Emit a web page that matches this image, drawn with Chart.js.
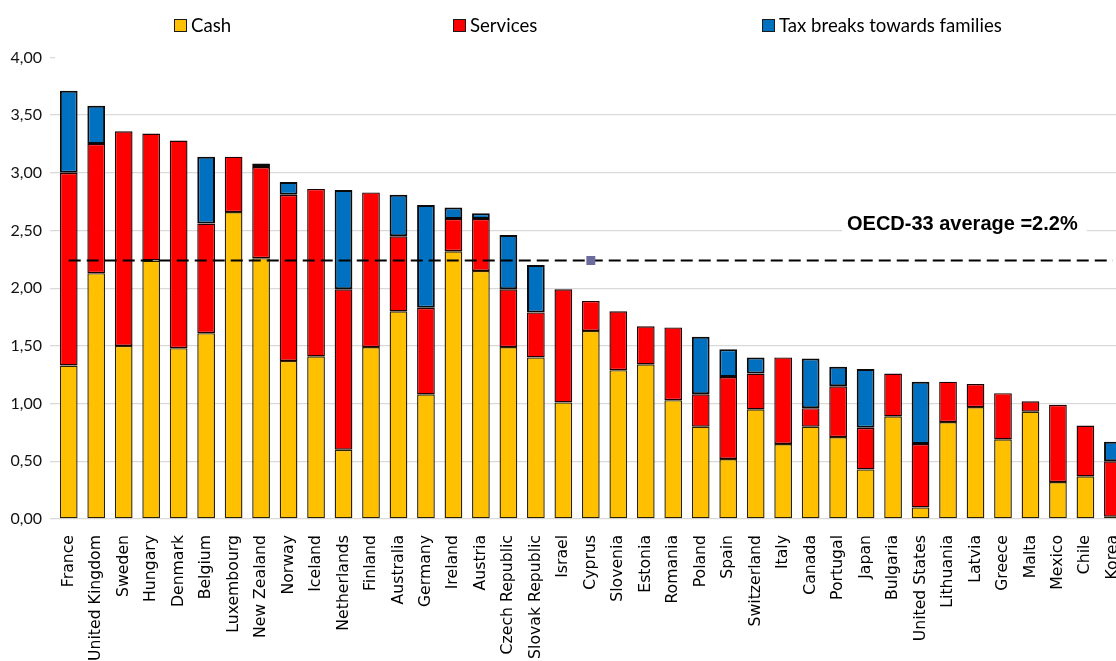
<!DOCTYPE html>
<html>
<head>
<meta charset="utf-8">
<title>Public spending on family benefits</title>
<script src="https://cdn.jsdelivr.net/npm/chart.js@4.4.1/dist/chart.umd.min.js"></script>
<style>
  html, body { margin: 0; padding: 0; background: #fff; overflow: hidden; }
  #wrap { width: 1148px; height: 661px; position: relative; }
</style>
</head>
<body>
<div id="wrap"><canvas id="chart"></canvas></div>
<script>
// Public spending on family benefits, % of GDP, by type of support
const countries = [
  'France', 'United Kingdom', 'Sweden', 'Hungary', 'Denmark', 'Belgium', 'Luxembourg',
  'New Zealand', 'Norway', 'Iceland', 'Netherlands', 'Finland', 'Australia', 'Germany',
  'Ireland', 'Austria', 'Czech Republic', 'Slovak Republic', 'Israel', 'Cyprus', 'Slovenia',
  'Estonia', 'Romania', 'Poland', 'Spain', 'Switzerland', 'Italy', 'Canada', 'Portugal',
  'Japan', 'Bulgaria', 'United States', 'Lithuania', 'Latvia', 'Greece', 'Malta', 'Mexico',
  'Chile', 'Korea'
];

const cash = [
  1.33, 2.13, 1.50, 2.24, 1.48, 1.61, 2.66,
  2.26, 1.37, 1.41, 0.60, 1.49, 1.80, 1.08,
  2.32, 2.15, 1.49, 1.40, 1.01, 1.63, 1.29,
  1.34, 1.03, 0.80, 0.52, 0.95, 0.65, 0.80, 0.71,
  0.43, 0.89, 0.10, 0.84, 0.97, 0.69, 0.93, 0.32,
  0.37, 0.02
];

const services = [
  1.67, 1.12, 1.86, 1.10, 1.80, 0.95, 0.48,
  0.79, 1.44, 1.45, 1.39, 1.34, 0.65, 0.75,
  0.28, 0.45, 0.50, 0.39, 0.98, 0.26, 0.51,
  0.33, 0.63, 0.28, 0.71, 0.31, 0.75, 0.16, 0.44,
  0.36, 0.37, 0.55, 0.35, 0.20, 0.40, 0.09, 0.67,
  0.44, 0.48
];

const taxBreaks = [
  0.71, 0.33, 0, 0, 0, 0.58, 0,
  0.03, 0.11, 0, 0.86, 0, 0.36, 0.89,
  0.10, 0.05, 0.47, 0.41, 0, 0, 0,
  0, 0, 0.50, 0.24, 0.14, 0, 0.43, 0.17,
  0.51, 0, 0.54, 0, 0, 0, 0, 0,
  0, 0.17
];

const seriesNames = ['Cash', 'Services', 'Tax breaks towards families'];
const oecdAverage = 2.24;
const averageLabel = 'OECD-33 average =2.2%';
const averageMarkerCountry = 'Cyprus';

const yMin = 0;
const yMax = 4;
const yStep = 0.5;

// ---- styling ----
const COLORS = { cash: '#FFC000', services: '#FF0000', tax: '#0070C0' };
const markerIndex = countries.indexOf(averageMarkerCountry);

const formatTick = v => Number(v).toFixed(2).replace('.', ',');

// Legend row across the top
const topLegend = {
  id: 'topLegend',
  afterDraw(chart) {
    const ctx = chart.ctx;
    const xs = [174, 453, 762];
    const bars = chart.data.datasets.filter(d => d.type === 'bar');
    ctx.save();
    bars.forEach((ds, i) => {
      const x = xs[i], y = 19;
      ctx.fillStyle = ds.backgroundColor;
      ctx.fillRect(x, y, 13, 13);
      ctx.strokeStyle = '#1a1a1a';
      ctx.lineWidth = 1;
      ctx.strokeRect(x + 0.5, y + 0.5, 12, 12);
      ctx.fillStyle = '#000';
      ctx.font = '18.6px Lato, "Open Sans", sans-serif';
      ctx.textBaseline = 'middle';
      ctx.textAlign = 'left';
      ctx.fillText(ds.label, x + 17, y + 7);
    });
    ctx.restore();
  }
};

// Caption for the average line, on a white box
const averageCaption = {
  id: 'averageCaption',
  afterDatasetsDraw(chart) {
    const ctx = chart.ctx;
    const yPix = chart.scales.y.getPixelForValue(oecdAverage);
    const cy = yPix - 36;
    ctx.save();
    ctx.font = 'bold 20px "Liberation Sans", Arial, sans-serif';
    const w = ctx.measureText(averageLabel).width;
    ctx.fillStyle = '#fff';
    ctx.fillRect(842, cy - 14, w + 14, 28);
    ctx.fillStyle = '#000';
    ctx.textBaseline = 'middle';
    ctx.textAlign = 'left';
    ctx.fillText(averageLabel, 847, cy);
    ctx.restore();
  }
};

const barBorder = w => ctx => (ctx.raw ? w : 0);

new Chart(document.getElementById('chart'), {
  data: {
    labels: countries,
    datasets: [
      {
        type: 'line',
        label: 'OECD-33 average',
        data: countries.map(() => oecdAverage),
        stack: 'average',
        order: 0,
        borderColor: '#000',
        borderWidth: 2,
        borderDash: [12, 6],
        fill: false,
        pointStyle: 'rect',
        pointRadius: ctx => (ctx.dataIndex === markerIndex ? 6.3 : 0),
        pointBackgroundColor: '#6B6B9E',
        pointBorderWidth: 0
      },
      {
        type: 'bar', label: seriesNames[0], data: cash, stack: 'benefits', order: 1,
        backgroundColor: COLORS.cash, borderColor: '#2b2200', borderWidth: barBorder(1.4), borderSkipped: false
      },
      {
        type: 'bar', label: seriesNames[1], data: services, stack: 'benefits', order: 1,
        backgroundColor: COLORS.services, borderColor: '#1f0000', borderWidth: barBorder(1.4), borderSkipped: false
      },
      {
        type: 'bar', label: seriesNames[2], data: taxBreaks, stack: 'benefits', order: 1,
        backgroundColor: COLORS.tax, borderColor: '#0a0a0a', borderWidth: barBorder(2), borderSkipped: false
      }
    ]
  },
  options: {
    responsive: true,
    maintainAspectRatio: false,
    animation: false,
    layout: { padding: { top: 57.4, right: 20.4, left: 0, bottom: 0 } },
    datasets: { bar: { categoryPercentage: 1, barPercentage: 0.645 } },
    plugins: { legend: { display: false }, tooltip: { enabled: false } },
    scales: {
      x: {
        stacked: true,
        grid: { display: false, drawTicks: false },
        border: { display: false },
        ticks: {
          autoSkip: false,
          minRotation: 90,
          maxRotation: 90,
          padding: 16,
          color: '#000',
          font: { family: 'DejaVu Sans', size: 15.7 }
        },
        afterFit: s => { s.height = 142; }
      },
      y: {
        stacked: true,
        min: yMin,
        max: yMax,
        border: { display: false },
        grid: {
          color: ctx => (ctx.tick && ctx.tick.value === yMax ? 'rgba(0,0,0,0)' : '#d9d9d9'),
          tickColor: '#d9d9d9',
          tickLength: 5,
          lineWidth: 1.3
        },
        ticks: {
          stepSize: yStep,
          padding: 8,
          color: '#111',
          font: { family: 'Lato, "Open Sans", sans-serif', size: 16 },
          callback: formatTick
        },
        afterFit: s => { s.width = 55; }
      }
    }
  },
  plugins: [topLegend, averageCaption]
});
</script>
</body>
</html>
